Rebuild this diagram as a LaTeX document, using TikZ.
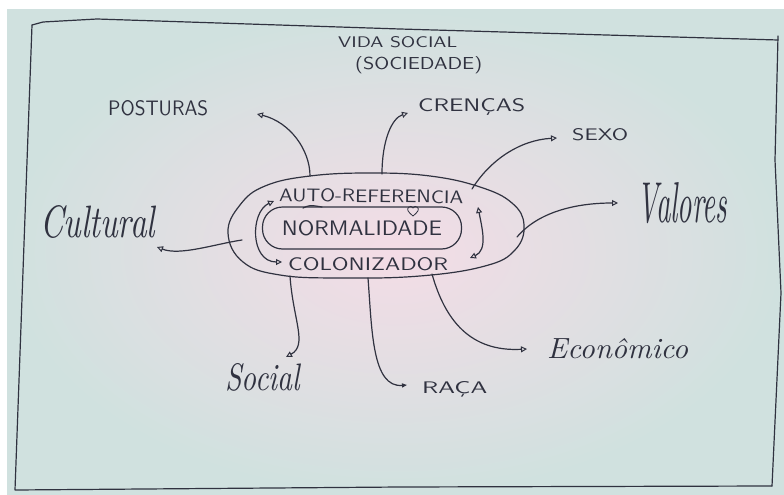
\documentclass[tikz,border=0pt]{standalone}
\usepackage{graphicx}
\usetikzlibrary{arrows.meta}
\definecolor{ink}{RGB}{48,50,64}
\definecolor{paper}{RGB}{208,225,223}
\definecolor{paperc}{RGB}{244,220,230}
\newcommand{\lbl}[3]{\resizebox{#1pt}{#2pt}{#3}}
\begin{document}
\begin{tikzpicture}[x=1pt,y=-1pt,
  lab/.style={inner sep=0pt,text=ink,anchor=base west},
  inkline/.style={draw=ink,line width=1.2pt,line cap=round,line join=round},
  con/.style={inkline,-{Triangle[open,length=6pt,width=6pt,line width=1pt]}},
  fcon/.style={inkline,-{Triangle[length=5pt,width=4pt]}},
]
\useasboundingbox (0,0) rectangle (784,495);
\fill[white] (0,0) rectangle (784,495);
\shade[inner color=paperc,outer color=paper] (7,10) rectangle (784,495);
% frame
\draw[inkline] (32,25) -- (43,22) -- (97,19) -- (400,29) -- (778,40);
\draw[inkline] (778,36) -- (775,160) -- (781,293) -- (772,486);
\draw[inkline] (32,25) -- (15,490) -- (400,487) -- (772,486);
% titles
\node[lab] (t1) at (338,48) {\lbl{119}{11}{\sffamily VIDA SOCIAL}};
\node[lab] (t2) at (355,70) {\lbl{127}{13}{\sffamily (SOCIEDADE)}};
% labels
\node[lab] (post) at (108,115) {\lbl{100}{15}{\sffamily POSTURAS}};
\node[lab] (cren) at (418,111) {\lbl{107}{13}{\sffamily CRENÇAS}};
\node[lab] (sexo) at (572,140) {\lbl{56}{12}{\sffamily SEXO}};
\node[lab] (valo) at (637,222) {\lbl{90}{40}{\itshape Valores}};
\node[lab] (cult) at (40,237) {\lbl{115}{32}{\itshape Cultural}};
\node[lab] (econ) at (547,358) {\lbl{141}{20}{\itshape Econômico}};
\node[lab] (soci) at (225,390) {\lbl{75}{27}{\itshape Social}};
\node[lab] (raca) at (422,393) {\lbl{65}{12}{\sffamily RAÇA}};
% core
\node[lab,rotate=-0.8] (auto) at (279,201) {\lbl{184}{13}{\sffamily AUTO-REFERENCIA}};
\node[lab] (colo) at (288,270) {\lbl{160}{13}{\sffamily COLONIZADOR}};
\node[inkline,inner sep=0pt,minimum width=199pt,minimum height=42pt,rounded corners=20pt,text=ink] (norm) at (362,228) {\lbl{160}{15}{\sffamily NORMALIDADE}};
% outer ellipse
\draw[inkline] plot[smooth cycle,tension=0.7] coordinates {(228,233) (240,205) (265,186) (310,176) (370,173) (430,176) (480,187) (512,203) (524,225) (515,250) (485,266) (420,276) (340,278) (280,275) (243,262)};
% heart
\draw[inkline,line width=0.8pt] (413,216) .. controls (408,212) and (406,209) .. (409,207) .. controls (411,206) .. (413,208) .. controls (415,206) .. (417,207) .. controls (420,209) and (418,212) .. (413,216);
% inner loops
\draw[inkline,{Triangle[open,length=6pt,width=6pt,line width=1pt]}-{Triangle[open,length=6pt,width=6pt,line width=1pt]}] (274,201) .. controls (250,212) and (250,262) .. (282,262);
\draw[inkline,{Triangle[open,length=6pt,width=6pt,line width=1pt]}-{Triangle[open,length=6pt,width=6pt,line width=1pt]}] (478,207) .. controls (482,228) and (488,250) .. (470,258);
\draw[inkline] (303,208) .. controls (310,205) .. (322,207);
% connector ends
\coordinate (pst) at (310,176); \coordinate (pse) at (257,114);
\coordinate (crs) at (382,174); \coordinate (cre) at (408,113);
\coordinate (sxs) at (472,189); \coordinate (sxe) at (557,138);
\coordinate (vls) at (517,237); \coordinate (vle) at (618,203);
\coordinate (cls) at (242,240); \coordinate (cle) at (157,247);
\coordinate (scs) at (290,276); \coordinate (sce) at (286,357);
\coordinate (rcs) at (368,278); \coordinate (rce) at (407,385);
\coordinate (ecs) at (432,274); \coordinate (ece) at (527,349);
% connectors
\draw[con] (pst) .. controls (310,150) and (290,122) .. (pse);
\draw[con] (crs) .. controls (382,140) and (392,118) .. (cre);
\draw[con] (sxs) .. controls (490,160) and (520,140) .. (sxe);
\draw[con] (vls) .. controls (540,210) and (580,203) .. (vle);
\draw[con] (cls) .. controls (215,244) and (180,256) .. (cle);
\draw[con] (scs) .. controls (293,320) and (308,345) .. (sce);
\draw[fcon] (rcs) .. controls (372,330) and (372,388) .. (rce);
\draw[con] (ecs) .. controls (445,320) and (470,352) .. (ece);
\end{tikzpicture}
\end{document}
